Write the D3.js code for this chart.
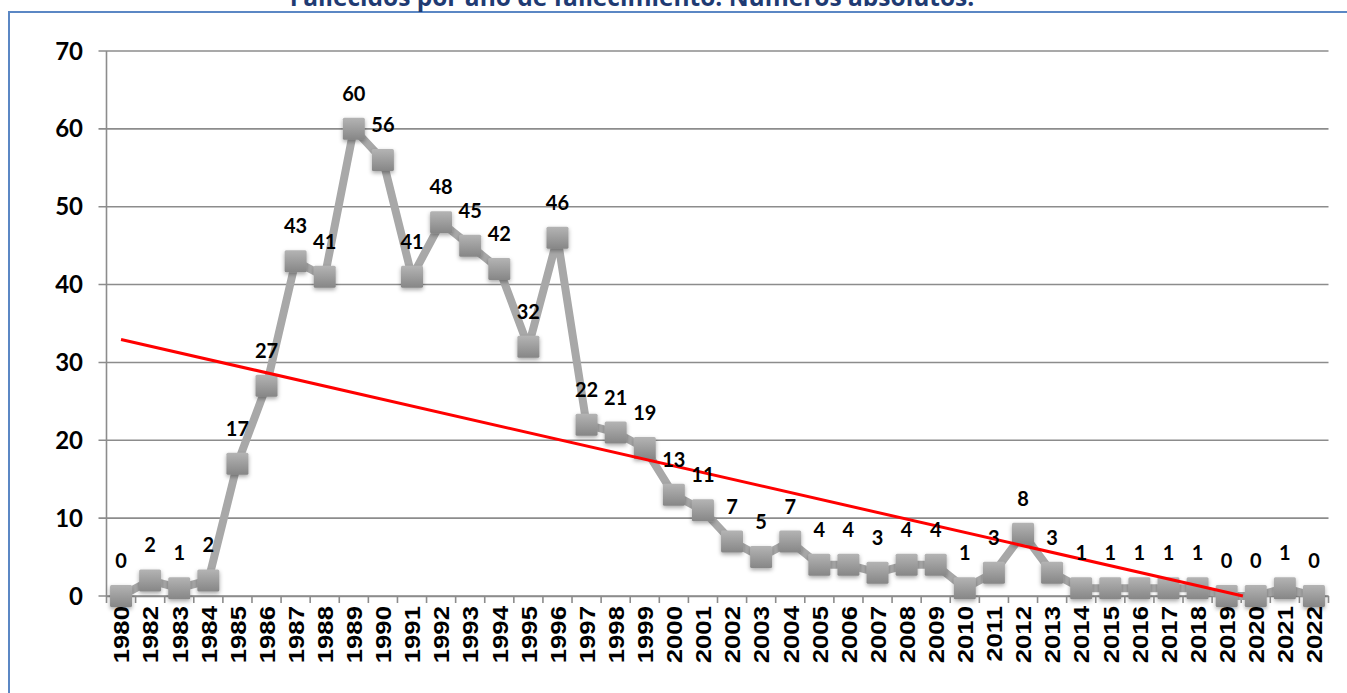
<!DOCTYPE html>
<html>
<head>
  <meta charset="utf-8">
  <title>fallecidos</title>
  <style>
    body { margin: 0; background: #fff; }
  </style>
</head>
<body>
  <div id="chart"></div>
  <script src="https://d3js.org/d3.v7.min.js"></script>
  <script>
  // años (no hay 1981 en el original)
  var years = ["1980","1982","1983","1984","1985","1986","1987","1988","1989","1990",
               "1991","1992","1993","1994","1995","1996","1997","1998","1999","2000",
               "2001","2002","2003","2004","2005","2006","2007","2008","2009","2010",
               "2011","2012","2013","2014","2015","2016","2017","2018","2019","2020",
               "2021","2022"];
  var deaths = [0,2,1,2,17,27,43,41,60,56,
                41,48,45,42,32,46,22,21,19,13,
                11,7,5,7,4,4,3,4,4,1,
                3,8,3,1,1,1,1,1,0,0,
                1,0];
  var yTicks = [0,10,20,30,40,50,60,70];
  var title = "Fallecidos por año de fallecimiento. Números absolutos.";

  var W = 1347, H = 693;
  var svg = d3.select("#chart").append("svg")
    .attr("width", W).attr("height", H);

  var defs = svg.append("defs");
  var grad = defs.append("linearGradient").attr("id","mk").attr("x1",0).attr("y1",0).attr("x2",0).attr("y2",1);
  grad.append("stop").attr("offset","0%").attr("stop-color","#b4b4b4");
  grad.append("stop").attr("offset","100%").attr("stop-color","#868686");
  var sh = defs.append("filter").attr("id","sh").attr("x","-50%").attr("y","-50%").attr("width","200%").attr("height","200%");
  sh.append("feDropShadow").attr("dx",0).attr("dy",2).attr("stdDeviation",2)
    .attr("flood-color","#000").attr("flood-opacity",0.35);

  // marco
  svg.append("path")
    .attr("d", "M9," + H + " L9,12 L" + W + ",12")
    .attr("fill","none").attr("stroke","#5b87c4").attr("stroke-width",2);

  // titulo, cortado por arriba
  var tt = svg.append("text")
    .attr("x", 632).attr("y", 6)
    .attr("text-anchor","middle")
    .attr("font-family","'Open Sans', sans-serif")
    .attr("font-weight","bold")
    .attr("font-size","22px")
    .attr("fill","#1f3b73")
    .text(title);
  // ajustar ancho a ~685px
  var tw = tt.node().getComputedTextLength();
  tt.attr("font-size", (22 * 685 / tw) + "px");

  var pLeft = 106.5, pRight = 1328.5, pTop = 51, pBottom = 596;

  var x = d3.scaleBand().domain(years).range([pLeft, pRight]);
  var y = d3.scaleLinear().domain([0,70]).range([pBottom, pTop]);
  var cx = function(d, i){ return x(years[i]) + x.bandwidth()/2; };

  // rejilla
  svg.append("g").selectAll("line").data(yTicks).enter().append("line")
    .attr("x1", pLeft - 8).attr("x2", pRight)
    .attr("y1", function(d){ return y(d); })
    .attr("y2", function(d){ return y(d); })
    .attr("stroke","#8c8c8c").attr("stroke-width",1.6);

  // eje y
  svg.append("line")
    .attr("x1", pLeft).attr("x2", pLeft).attr("y1", pTop).attr("y2", pBottom)
    .attr("stroke","#8c8c8c").attr("stroke-width",1.6);
  svg.append("g").selectAll("text").data(yTicks).enter().append("text")
    .attr("x", 83).attr("y", function(d){ return y(d); })
    .attr("dy","0.36em")
    .attr("text-anchor","end")
    .attr("font-family","Lato, sans-serif")
    .attr("font-weight","bold")
    .attr("font-size","24px")
    .attr("fill","#000")
    .text(function(d){ return d; });

  // eje x
  var xAxis = d3.axisBottom(x).tickSize(0).tickFormat("");
  var gx = svg.append("g").attr("transform","translate(0," + pBottom + ")").call(xAxis);
  gx.select(".domain").attr("stroke","#8c8c8c").attr("stroke-width",1.6);
  var bounds = years.map(function(d){ return x(d); }).concat([pRight]);
  svg.append("g").selectAll("line").data(bounds).enter().append("line")
    .attr("x1", function(d){ return d; }).attr("x2", function(d){ return d; })
    .attr("y1", pBottom).attr("y2", pBottom + 7)
    .attr("stroke","#8c8c8c").attr("stroke-width",1.6);
  svg.append("g").selectAll("text").data(years).enter().append("text")
    .attr("transform", function(d){ return "translate(" + (x(d) + x.bandwidth()/2) + "," + (pBottom + 10) + ") rotate(-90) scale(1.12,1)"; })
    .attr("dy","0.36em")
    .attr("text-anchor","end")
    .attr("font-family","'Liberation Sans', Arial, sans-serif")
    .attr("font-weight","bold")
    .attr("font-size","23px")
    .attr("fill","#000")
    .text(function(d){ return d; });

  // serie
  var line = d3.line()
    .x(function(d, i){ return cx(d, i); })
    .y(function(d){ return y(d); });
  svg.append("path").datum(deaths)
    .attr("d", line)
    .attr("fill","none")
    .attr("stroke","#a8a8a8")
    .attr("stroke-width",8)
    .attr("stroke-linejoin","round");

  var ms = 22;
  svg.append("g").selectAll("rect").data(deaths).enter().append("rect")
    .attr("x", function(d, i){ return cx(d, i) - ms/2; })
    .attr("y", function(d){ return y(d) - ms/2; })
    .attr("width", ms).attr("height", ms)
    .attr("rx", 1.5)
    .attr("fill","url(#mk)")
    .attr("filter","url(#sh)");

  // linea de tendencia (minimos cuadrados)
  var n = deaths.length;
  var xs = d3.range(1, n + 1);
  var mx = d3.mean(xs), my = d3.mean(deaths);
  var sxy = d3.sum(xs, function(v, i){ return (v - mx) * (deaths[i] - my); });
  var sxx = d3.sum(xs, function(v){ return (v - mx) * (v - mx); });
  var slope = sxy / sxx, icpt = my - slope * mx;
  var xZero = -icpt / slope; // donde toca 0
  var step = x.step();
  var px = function(k){ return x(years[0]) + x.bandwidth()/2 + (k - 1) * step; };
  svg.append("line")
    .attr("x1", px(1)).attr("y1", y(icpt + slope))
    .attr("x2", px(xZero)).attr("y2", y(0))
    .attr("stroke","#ff0000").attr("stroke-width",3);

  // etiquetas
  svg.append("g").selectAll("text").data(deaths).enter().append("text")
    .attr("x", function(d, i){ return cx(d, i); })
    .attr("y", function(d){ return y(d) - 35; })
    .attr("dy","0.35em")
    .attr("text-anchor","middle")
    .attr("font-family","Lato, sans-serif")
    .attr("font-weight","bold")
    .attr("font-size","20px")
    .attr("fill","#000")
    .text(function(d){ return d; });
  </script>
</body>
</html>
